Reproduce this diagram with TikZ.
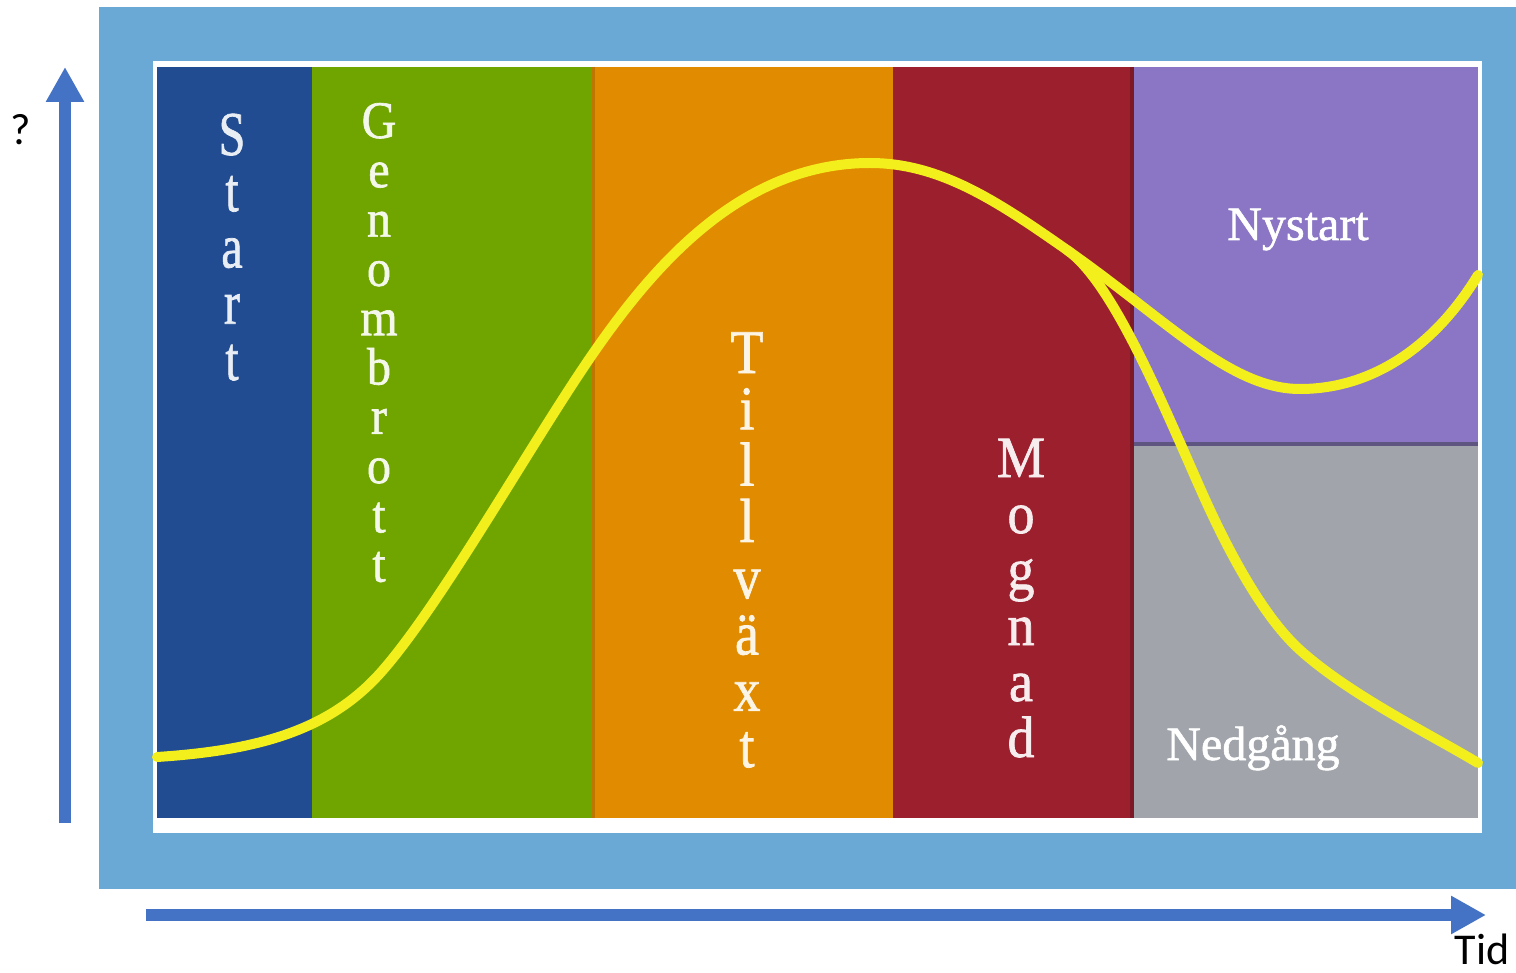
\documentclass[tikz,border=0pt]{standalone}
\usepackage{fontspec}
\setmainfont{Liberation Serif}
\newfontfamily\lblfont[FakeBold=1.2]{Liberation Serif}
\newfontfamily\axfont{Carlito}
\usetikzlibrary{arrows.meta}
\definecolor{frameblue}{HTML}{6AA8D6}
\definecolor{axisblue}{HTML}{4472C4}
\definecolor{cstart}{HTML}{214C91}
\definecolor{cgreen}{HTML}{70A500}
\definecolor{corange}{HTML}{E18B00}
\definecolor{cred}{HTML}{9C1F2E}
\definecolor{cpurple}{HTML}{8B76C5}
\definecolor{cgray}{HTML}{A1A5AB}
\definecolor{cdiv}{HTML}{5E5680}
\definecolor{cyell}{HTML}{F3EF1C}
\tikzset{
  vlet/.style={anchor=base, inner sep=0pt, font=\lblfont\fontsize{27}{27}\selectfont, yscale=1.15},
  hlab/.style={anchor=base, inner sep=0pt, text=white, font=\lblfont\fontsize{24}{24}\selectfont},
  axlab/.style={anchor=base, inner sep=0pt, font=\axfont\fontsize{22}{22}\selectfont},
  axis/.style={axisblue, line width=6pt, -{Triangle[width=18pt,length=17.5pt]}},
  lifecurve/.style={cyell, line width=5pt, line cap=round, line join=round}
}
\begin{document}
\begin{tikzpicture}[x=0.5pt,y=-0.5pt]
\useasboundingbox (0,0) rectangle (1516,973);
% frame
\fill[frameblue] (99,7) rectangle (1516,889);
\fill[white] (153,61) rectangle (1482,833);
% columns
\fill[cstart]  (157,67) rectangle (313,818);
\fill[cgreen]  (312,67) rectangle (593,818);
\fill[corange] (592,67) rectangle (894,818);
\fill[cred]    (893,67) rectangle (1134,818);
\fill[cpurple] (1133,67) rectangle (1478,445);
\fill[cgray]   (1133,445) rectangle (1478,818);
\draw[cdiv, line width=2pt] (1133,444) -- (1478,444);
\draw[cred!80!black, line width=2pt] (1132,67) -- (1132,818);
\draw[corange!85!black, line width=1.5pt] (593,67) -- (593,818);
% vertical labels
\foreach \l [count=\i] in {S,t,a,r,t}
  \node[vlet, text=white!90!cstart, font=\lblfont\fontsize{24}{24}\selectfont, yscale=1.3/1.15] (st\i) at (232,{155+56.25*(\i-1)}) {\l};
\foreach \l [count=\i] in {G,e,n,o,m,b,r,o,t,t}
  \node[vlet, text=white!92!cgreen, font=\lblfont\fontsize{24}{24}\selectfont, yscale=1.1/1.15] (ge\i) at (379,{138+49.3*(\i-1)}) {\l};
\foreach \l [count=\i] in {T,i,l,l,v,ä,x,t}
  \node[vlet, text=white!90!corange] (ti\i) at (747,{373+56.3*(\i-1)}) {\l};
\foreach \l [count=\i] in {M,o,g,n,a,d}
  \node[vlet, text=white!92!cred, yscale=1.08/1.15] (mo\i) at (1021,{477+56*(\i-1)}) {\l};
\node[hlab] (nystart) at (1298,240) {Nystart};
\node[hlab] (nedgang) at (1253,760) {Nedgång};
% curve key points
\coordinate (cA) at (157,757);
\coordinate (cP) at (383,670);
\coordinate (cQ) at (592,355);
\coordinate (cC) at (870,163);
\coordinate (cD) at (1067,250);
\coordinate (cE) at (1300,389);
\coordinate (cF) at (1478,275);
\coordinate (cG) at (1200,488);
\coordinate (cK) at (1300,650);
\coordinate (cH) at (1478,763);
\draw[lifecurve] (cA) .. controls (265,750) and (333,727.5) .. (cP)
  .. controls (443,601) and (532,442) .. (cQ)
  .. controls (652,268) and (740,163) .. (cC)
  .. controls (940,163) and (997,201) .. (cD)
  .. controls (1167,320) and (1230,389) .. (cE)
  .. controls (1370,389) and (1433,349) .. (cF);
\draw[lifecurve] (cD) .. controls (1112,281.5) and (1160,397.6) .. (cG)
  .. controls (1230,556) and (1265,618.5) .. (cK)
  .. controls (1350,695) and (1428,733) .. (cH);
% axes
\coordinate (yfrom) at (65,823);
\coordinate (yto) at (65,67);
\coordinate (xfrom) at (146,915);
\coordinate (xto) at (1486,915);
\draw[axis] (yfrom) -- (yto);
\draw[axis] (xfrom) -- (xto);
\node[axlab] (qmark) at (21,145) {?};
\node[axlab, anchor=base east] (tid) at (1510,964) {Tid};
\end{tikzpicture}
\end{document}
